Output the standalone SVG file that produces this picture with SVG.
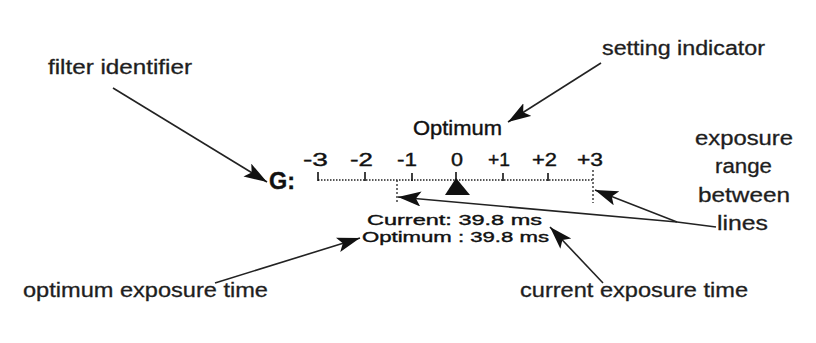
<svg xmlns="http://www.w3.org/2000/svg" width="816" height="343" viewBox="0 0 816 343">
<style>
.lbl{font-family:"Liberation Sans",Arial,sans-serif;font-size:20px;fill:#1e1e1e;stroke:#1e1e1e;stroke-width:0.3}
.mac{font-family:"Liberation Sans",Arial,sans-serif;fill:#111;stroke:#111;stroke-width:0.4}
.num{font-size:19px}
.conn{stroke:#222;stroke-width:1.6;fill:none}
.tick{stroke:#111;stroke-width:1.6}
</style>
<defs>
<marker id="ah" markerUnits="userSpaceOnUse" markerWidth="26" markerHeight="16" refX="23" refY="7.5" orient="auto">
<path d="M0,0 L23,7.5 L0,15 L5,7.5 z" fill="#111"/>
</marker>
</defs>
<rect width="816" height="343" fill="#fff"/>

<g id="filter-identifier"><text class="lbl" x="48" y="74" textLength="144" lengthAdjust="spacingAndGlyphs">filter identifier</text></g>
<g id="setting-indicator"><text class="lbl" x="602" y="55" textLength="163" lengthAdjust="spacingAndGlyphs">setting indicator</text></g>
<g id="exposure-range">
<text class="lbl" x="695" y="145" textLength="98" lengthAdjust="spacingAndGlyphs">exposure</text>
<text class="lbl" x="715" y="173" textLength="57" lengthAdjust="spacingAndGlyphs">range</text>
<text class="lbl" x="698" y="202" textLength="92" lengthAdjust="spacingAndGlyphs">between</text>
<text class="lbl" x="717" y="230" textLength="51" lengthAdjust="spacingAndGlyphs">lines</text>
</g>
<g id="optimum-exposure-time"><text class="lbl" x="23" y="297" textLength="245" lengthAdjust="spacingAndGlyphs">optimum exposure time</text></g>
<g id="current-exposure-time"><text class="lbl" x="520" y="297" textLength="228" lengthAdjust="spacingAndGlyphs">current exposure time</text></g>

<g id="display">
<text class="mac" x="413" y="135" font-size="21" textLength="89" lengthAdjust="spacingAndGlyphs">Optimum</text>
<text class="mac" x="269" y="189" font-size="24" font-weight="bold" textLength="26" lengthAdjust="spacingAndGlyphs">G:</text>
<g class="mac num">
<text x="303" y="166" textLength="25" lengthAdjust="spacingAndGlyphs">-3</text>
<text x="350" y="166" textLength="23" lengthAdjust="spacingAndGlyphs">-2</text>
<text x="397" y="166" textLength="20" lengthAdjust="spacingAndGlyphs">-1</text>
<text x="451" y="166" textLength="12" lengthAdjust="spacingAndGlyphs">0</text>
<text x="488" y="166" textLength="22" lengthAdjust="spacingAndGlyphs">+1</text>
<text x="532" y="166" textLength="25" lengthAdjust="spacingAndGlyphs">+2</text>
<text x="577" y="166" textLength="26" lengthAdjust="spacingAndGlyphs">+3</text>
</g>
<line x1="318" y1="180" x2="593" y2="180" stroke="#222" stroke-width="1.5" stroke-dasharray="1.5 1.5"/>
<g class="tick">
<line x1="318" y1="172" x2="318" y2="181"/>
<line x1="365" y1="172" x2="365" y2="181"/>
<line x1="412" y1="173" x2="412" y2="181"/>
<line x1="456" y1="172" x2="456" y2="181"/>
<line x1="503" y1="173" x2="503" y2="181"/>
<line x1="548" y1="173" x2="548" y2="181"/>
</g>
<line x1="397" y1="180" x2="397" y2="202" stroke="#333" stroke-width="1.4" stroke-dasharray="2 2"/>
<line x1="593" y1="170" x2="593" y2="203" stroke="#333" stroke-width="1.4" stroke-dasharray="2 2"/>
<path d="M456,178 L470,195 L445,195 z" fill="#111"/>
<text class="mac" x="367" y="225" font-size="15.5" textLength="175" lengthAdjust="spacingAndGlyphs">Current: 39.8 ms</text>
<text class="mac" x="362" y="241.5" font-size="15.5" textLength="187" lengthAdjust="spacingAndGlyphs">Optimum : 39.8 ms</text>
</g>

<g id="connectors">
<line class="conn" x1="113" y1="88" x2="267" y2="182" marker-end="url(#ah)"/>
<line class="conn" x1="601" y1="63" x2="508" y2="122" marker-end="url(#ah)"/>
<polyline class="conn" points="716,227 677,222 398,197" marker-end="url(#ah)"/>
<line class="conn" x1="677" y1="222" x2="595" y2="190" marker-end="url(#ah)"/>
<line class="conn" x1="215" y1="283" x2="360" y2="238" marker-end="url(#ah)"/>
<line class="conn" x1="603" y1="283" x2="550" y2="227" marker-end="url(#ah)"/>
</g>
</svg>
